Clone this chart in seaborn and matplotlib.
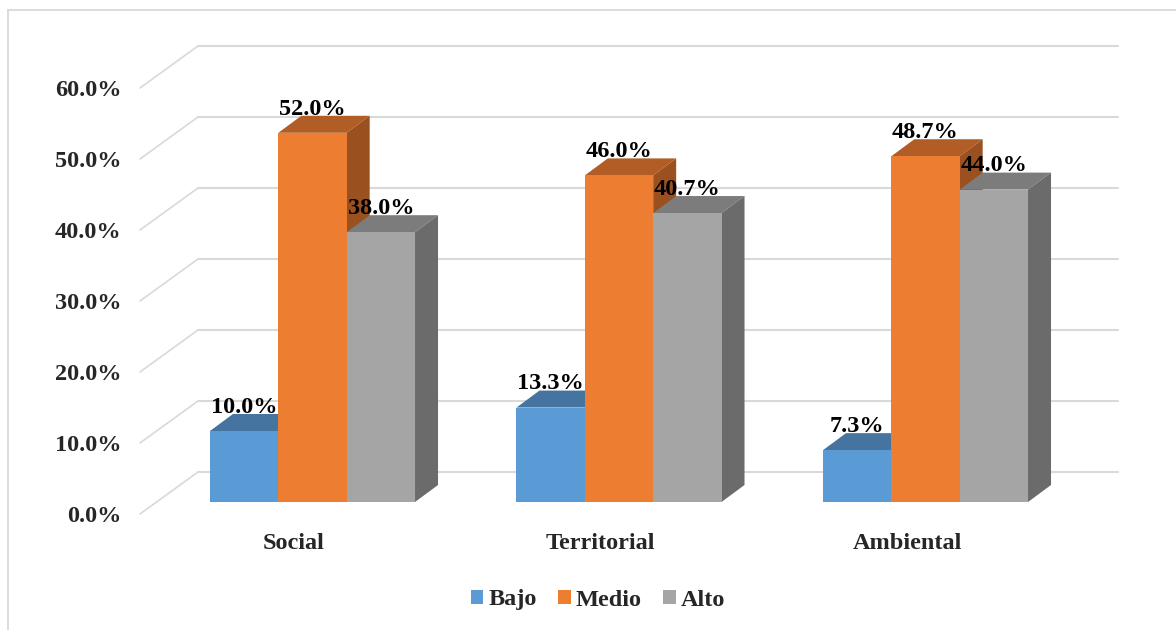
import matplotlib
matplotlib.use("Agg")
import matplotlib.pyplot as plt
from matplotlib.lines import Line2D
from matplotlib.patches import Polygon
import pandas as pd
import seaborn as sns

categories = ["Social", "Territorial", "Ambiental"]
levels = ["Bajo", "Medio", "Alto"]
bajo = [10.0, 13.3, 7.3]
medio = [52.0, 46.0, 48.7]
alto = [38.0, 40.7, 44.0]
y_ticks = [0, 10, 20, 30, 40, 50, 60]

front = ["#5B9BD5", "#ED7D31", "#A5A5A5"]
top = ["#44749F", "#B15D25", "#7C7C7C"]
side = ["#3B6590", "#9A511F", "#6B6B6B"]
grid = "#D9D9D9"

df = pd.DataFrame({
    "categoria": categories * 3,
    "nivel": [l for l in levels for _ in categories],
    "valor": bajo + medio + alto,
})

sns.set_theme(style="white")
plt.rcParams["font.family"] = ["Liberation Serif", "DejaVu Serif"]
plt.rcParams["font.weight"] = "bold"

W, H = 1176, 630
fig = plt.figure(figsize=(W / 100, H / 100), dpi=100)
ax = fig.add_axes([140 / W, 1 - 514 / H, (1118 - 140) / W, (514 - 45) / H])

sns.barplot(data=df, x="categoria", y="valor", hue="nivel", order=categories,
            hue_order=levels, palette=front, saturation=1, width=0.669, gap=0,
            linewidth=0, ax=ax)

# pixels per data unit, used to turn the 3d offsets into data units
px_x = 306.5
px_y = 7.1
depth_x = 23 / px_x
depth_y = 17 / px_y
x_min = (140 - 312.5) / px_x
x_max = (1118 - 312.5) / px_x
wall_x = (198 - 312.5) / px_x
front_drop = -12 / px_y
back_rise = 30 / px_y

ax.set_xlim(x_min, x_max)
ax.set_ylim(front_drop, (502 - 45) / px_y)

# walls
for v in y_ticks:
    ax.plot([x_min, wall_x], [v + front_drop, v + back_rise], color=grid, lw=1.2,
            zorder=0.5, clip_on=False)
    ax.plot([wall_x, x_max], [v + back_rise, v + back_rise], color=grid, lw=1.5,
            zorder=0.5, clip_on=False)

# top and side faces of the bars
for i, cont in enumerate(ax.containers):
    for bar in cont:
        x0 = bar.get_x()
        x1 = x0 + bar.get_width()
        h = bar.get_height()
        bar.set_zorder(3 + i * 2)
        ax.add_patch(Polygon([(x0, h), (x1, h), (x1 + depth_x, h + depth_y), (x0 + depth_x, h + depth_y)],
                             facecolor=top[i], edgecolor="none", zorder=2 + i * 2))
        ax.add_patch(Polygon([(x1, 0), (x1 + depth_x, depth_y), (x1 + depth_x, h + depth_y), (x1, h)],
                             facecolor=side[i], edgecolor="none", zorder=2 + i * 2))
    labels = ax.bar_label(cont, fmt="%.1f%%", padding=9.5, fontsize=17.5, fontweight="bold", color="black")
    for t in labels:
        t.set_zorder(20)

ax.set_xlabel("")
ax.set_ylabel("")
ax.set_yticks([v + front_drop for v in y_ticks], [f"{v:.1f}%" for v in y_ticks])
ax.set_xticks([c - 18.5 / px_x for c in range(len(categories))], categories)
ax.tick_params(axis="y", length=0, pad=13.5, labelsize=17.5)
ax.tick_params(axis="x", length=0, pad=14, labelsize=17.5)
sns.despine(ax=ax, left=True, bottom=True)

ax.legend(loc="center", bbox_to_anchor=(598 / W, 1 - 600 / H), bbox_transform=fig.transFigure,
          ncol=3, frameon=False, title=None, fontsize=17.5, handlelength=0.5, handleheight=0.5,
          handletextpad=0.2, columnspacing=0.9, borderpad=0)

# outer frame of the picture
fig.add_artist(Line2D([8 / W, 8 / W], [0, 1 - 10 / H], color=grid, lw=1.3))
fig.add_artist(Line2D([8 / W, 1], [1 - 10 / H, 1 - 10 / H], color=grid, lw=1.3))

fig.savefig("out.png", dpi=100)
